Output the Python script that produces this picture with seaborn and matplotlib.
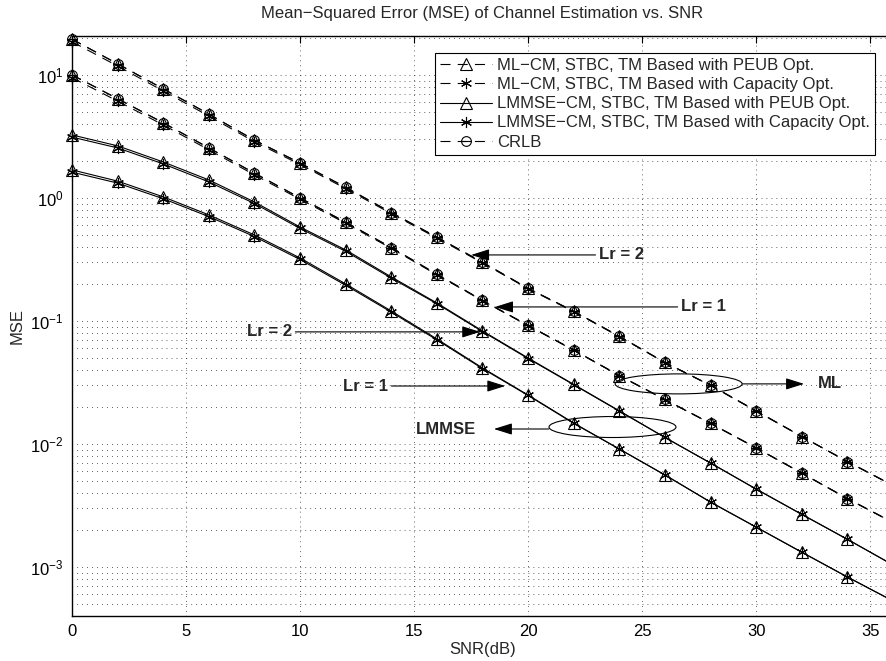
import matplotlib
matplotlib.use("Agg")
import matplotlib.pyplot as plt
import matplotlib.transforms as mtransforms
from matplotlib.patches import Ellipse
from matplotlib.path import Path
import seaborn as sns

# SNR grid (dB); markers are shown up to 34 dB, lines run to 36 dB
snr = [0, 2, 4, 6, 8, 10, 12, 14, 16, 18, 20, 22, 24, 26, 28, 30, 32, 34, 36]

# ML-CM curves (Lr = 2 upper pair, Lr = 1 lower pair)
ml_peub_lr2 = [19.5, 12.3, 7.7, 4.8, 2.95, 1.92, 1.22, 0.76, 0.48, 0.30, 0.184,
               0.12, 0.075, 0.046, 0.030, 0.0186, 0.0115, 0.0072, 0.0046]
ml_cap_lr2 = [18.6, 11.8, 7.4, 4.63, 2.86, 1.87, 1.19, 0.745, 0.472, 0.296, 0.183,
              0.119, 0.0745, 0.0458, 0.0299, 0.0185, 0.0115, 0.0072, 0.0046]
ml_peub_lr1 = [10.0, 6.4, 4.08, 2.55, 1.59, 1.0, 0.635, 0.395, 0.24, 0.147, 0.092,
               0.058, 0.036, 0.023, 0.0147, 0.0093, 0.0058, 0.0036, 0.0023]
ml_cap_lr1 = [9.5, 6.12, 3.92, 2.46, 1.54, 0.975, 0.622, 0.389, 0.237, 0.146, 0.0915,
              0.0578, 0.0359, 0.0229, 0.0147, 0.0093, 0.0058, 0.0036, 0.0023]

# CRLB (lies on the ML curves)
crlb_lr2 = [19.5, 12.3, 7.7, 4.8, 2.95, 1.92, 1.22, 0.76, 0.48, 0.30, 0.184,
            0.12, 0.075, 0.046, 0.030, 0.0186, 0.0115, 0.0072, 0.0046]
crlb_lr1 = [10.0, 6.4, 4.08, 2.55, 1.59, 1.0, 0.635, 0.395, 0.24, 0.147, 0.092,
            0.058, 0.036, 0.023, 0.0147, 0.0093, 0.0058, 0.0036, 0.0023]

# LMMSE-CM curves
lmmse_peub_lr2 = [3.25, 2.65, 1.96, 1.40, 0.927, 0.580, 0.378, 0.228, 0.140, 0.083, 0.050,
                  0.0305, 0.0186, 0.0113, 0.0070, 0.0043, 0.00268, 0.00168, 0.00104]
lmmse_cap_lr2 = [3.12, 2.55, 1.89, 1.35, 0.90, 0.565, 0.368, 0.223, 0.138, 0.082, 0.0495,
                 0.0303, 0.0185, 0.0113, 0.0070, 0.0043, 0.00268, 0.00168, 0.00104]
lmmse_peub_lr1 = [1.69, 1.37, 1.02, 0.728, 0.500, 0.325, 0.200, 0.1205, 0.0714, 0.0415, 0.0250,
                  0.0148, 0.0091, 0.0056, 0.00337, 0.00211, 0.00132, 0.00083, 0.00053]
lmmse_cap_lr1 = [1.62, 1.32, 0.985, 0.705, 0.485, 0.316, 0.195, 0.118, 0.0702, 0.0410, 0.0248,
                 0.0147, 0.0091, 0.0056, 0.00337, 0.00211, 0.00132, 0.00083, 0.00053]

legend_labels = [
    "ML\u2212CM, STBC, TM Based with PEUB Opt.",
    "ML\u2212CM, STBC, TM Based with Capacity Opt.",
    "LMMSE\u2212CM, STBC, TM Based with PEUB Opt.",
    "LMMSE\u2212CM, STBC, TM Based with Capacity Opt.",
    "CRLB",
]

sns.set_style("white")
plt.rcParams["font.family"] = ["Liberation Sans", "DejaVu Sans"]
plt.rcParams["mathtext.fontset"] = "custom"
plt.rcParams["mathtext.rm"] = "Liberation Sans"
plt.rcParams["mathtext.it"] = "Liberation Sans:italic"
plt.rcParams["mathtext.default"] = "regular"
plt.rcParams["font.size"] = 12

fig = plt.figure(figsize=(8.86, 6.61), dpi=100)
ax = fig.add_axes([72 / 886, 45 / 661, 821 / 886, 580 / 661])

# circle with a horizontal bar, like MATLAB's CRLB marker here
ominus = Path.make_compound_path(Path.unit_circle(),
                                 Path([[-1, 0], [1, 0]], [Path.MOVETO, Path.LINETO]))
asterisk = (6, 2, 0)
dash = (0, (9, 6.5))

common = dict(ax=ax, color="k", lw=0.8, mfc="none", mec="k", mew=0.8,
              markevery=slice(0, 18), clip_on=False)

# ML curves
sns.lineplot(x=snr, y=ml_peub_lr2, linestyle=dash, marker="^", ms=8, label=legend_labels[0], **common)
sns.lineplot(x=snr, y=ml_cap_lr2, linestyle=dash, marker=asterisk, ms=8, label=legend_labels[1], **common)
sns.lineplot(x=snr, y=ml_peub_lr1, linestyle=dash, marker="^", ms=8, **common)
sns.lineplot(x=snr, y=ml_cap_lr1, linestyle=dash, marker=asterisk, ms=8, **common)
# LMMSE curves
sns.lineplot(x=snr, y=lmmse_peub_lr2, linestyle="-", marker="^", ms=8, label=legend_labels[2], **common)
sns.lineplot(x=snr, y=lmmse_cap_lr2, linestyle="-", marker=asterisk, ms=8, label=legend_labels[3], **common)
sns.lineplot(x=snr, y=lmmse_peub_lr1, linestyle="-", marker="^", ms=8, **common)
sns.lineplot(x=snr, y=lmmse_cap_lr1, linestyle="-", marker=asterisk, ms=8, **common)
# CRLB
sns.lineplot(x=snr, y=crlb_lr2, linestyle=dash, marker=ominus, ms=7, label=legend_labels[4], **common)
sns.lineplot(x=snr, y=crlb_lr1, linestyle=dash, marker=ominus, ms=7, **common)

ax.set_yscale("log")
ax.set_xlim(0, 36)
ax.set_ylim(4.0e-4, 20.7)
ax.set_xticks([0, 5, 10, 15, 20, 25, 30, 35])

ax.tick_params(which="both", direction="in", top=True, right=True, labelsize=12, colors="k")
ax.tick_params(which="major", length=5, width=0.8, pad=6)
ax.tick_params(which="minor", length=3, width=0.6)
for s in ax.spines.values():
    s.set_color("k")
    s.set_linewidth(1.0)

grid_kw = dict(color="k", linestyle=(0, (0.6, 4.5)), linewidth=0.7)
ax.grid(True, which="major", axis="x", **grid_kw)
ax.grid(True, which="both", axis="y", **grid_kw)
ax.set_axisbelow(True)

ax.set_title("Mean\u2212Squared Error (MSE) of Channel Estimation vs. SNR", fontsize=12, pad=13)
ax.set_xlabel("SNR(dB)", fontsize=12, labelpad=2)
ax.set_ylabel("MSE", fontsize=12, labelpad=4)

# legend in the MATLAB style
handles, labels = ax.get_legend_handles_labels()
order = [labels.index(l) for l in legend_labels]
leg = ax.legend([handles[i] for i in order], [labels[i] for i in order],
                loc="upper right", bbox_to_anchor=(875 / 886, 1 - 53 / 661),
                bbox_transform=fig.transFigure, borderaxespad=0, fancybox=False,
                framealpha=1, edgecolor="k", fontsize=12, handlelength=3.1,
                handletextpad=0.3, labelspacing=0.25, borderpad=0.3)
leg.get_frame().set_linewidth(0.8)

# annotations
arrow_kw = dict(arrowstyle="-|>,head_length=0.7,head_width=0.22", color="k", lw=0.8,
                mutation_scale=16, shrinkA=0, shrinkB=0)
txt_kw = dict(fontsize=12, fontweight="bold", va="center")
ax.annotate("Lr = 2", xy=(17.5, 0.344), xytext=(23.1, 0.344), ha="left",
            arrowprops=arrow_kw, **txt_kw)
ax.annotate("Lr = 1", xy=(18.55, 0.130), xytext=(26.7, 0.130), ha="left",
            arrowprops=arrow_kw, **txt_kw)
ax.annotate("Lr = 2", xy=(17.9, 0.0815), xytext=(9.65, 0.0815), ha="right",
            arrowprops=arrow_kw, **txt_kw)
ax.annotate("Lr = 1", xy=(19.0, 0.0296), xytext=(13.86, 0.0296), ha="right",
            arrowprops=arrow_kw, **txt_kw)

ax.annotate("", xy=(18.5, 0.01324), xytext=(20.9, 0.01324), arrowprops=arrow_kw)
ax.text(17.7, 0.01324, "LMMSE", ha="right", **txt_kw)
ax.annotate("", xy=(32.1, 0.0308), xytext=(29.4, 0.0308), arrowprops=arrow_kw)
ax.text(32.7, 0.0308, "ML", ha="left", **txt_kw)


def ring(cx, cy, w, h):
    tr = fig.dpi_scale_trans + mtransforms.ScaledTranslation(cx, cy, ax.transData)
    ax.add_patch(Ellipse((0, 0), w, h, transform=tr, fill=False, edgecolor="k",
                         lw=0.8, clip_on=False))


ring(23.7, 0.01374, 1.27, 0.21)
ring(26.6, 0.0308, 1.27, 0.20)

fig.savefig("out.png", dpi=100)
